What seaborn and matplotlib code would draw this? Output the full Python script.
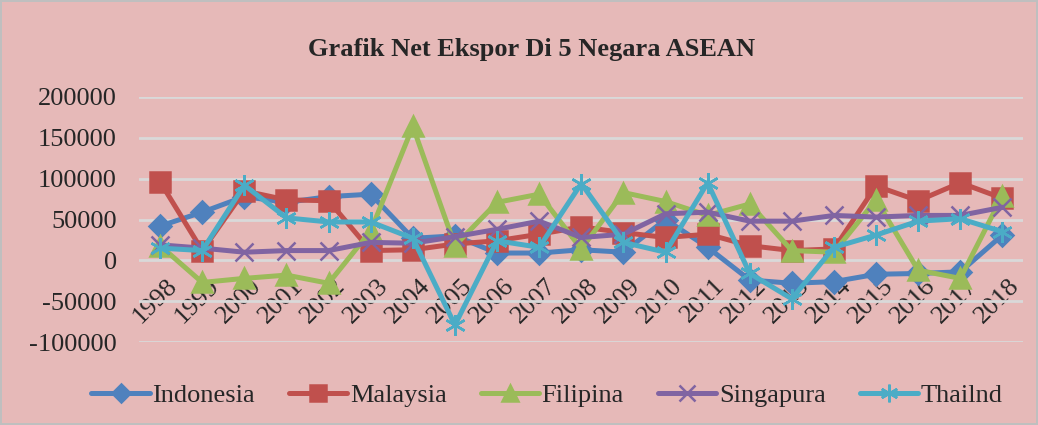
import numpy as np
import pandas as pd
import matplotlib
matplotlib.use("Agg")
import matplotlib.pyplot as plt
import matplotlib.transforms as mtransforms
import seaborn as sns

years = list(range(1998, 2019))
indonesia = [42000, 59000, 78000, 71000, 78000, 81000, 27000, 30000, 9000, 9000,
             13000, 10000, 50000, 16000, -24000, -28000, -26000, -17000, -16000, -14000, 31000]
malaysia = [96000, 12000, 85000, 74000, 73000, 12000, 13000, 20000, 24000, 32000,
            41000, 34000, 28000, 32000, 18000, 12000, 14000, 91000, 73000, 95000, 76000]
filipina = [18000, -27000, -22000, -18000, -28000, 36000, 164000, 18000, 71000, 81000,
            14000, 83000, 72000, 55000, 69000, 12000, 10000, 74000, -12000, -22000, 79000]
singapura = [19000, 15000, 10000, 12000, 12000, 22000, 21000, 29000, 38000, 48000,
             28000, 32000, 57000, 59000, 48000, 48000, 55000, 53000, 55000, 55000, 65000]
thailnd = [15000, 12000, 92000, 52000, 47000, 47000, 27000, -79000, 24000, 16000,
           94000, 22000, 10000, 95000, -16000, -47000, 16000, 31000, 48000, 51000, 35000]

series = {"Indonesia": indonesia, "Malaysia": malaysia, "Filipina": filipina,
          "Singapura": singapura, "Thailnd": thailnd}
colors = ["#4F81BD", "#C0504D", "#9BBB59", "#8064A2", "#4BACC6"]
markers = ["D", "s", "^", "x", (6, 2, 0)]
msizes = [11, 14, 14, 13, 15]

df = pd.DataFrame(series, index=years)
df.index.name = "Tahun"
long = df.reset_index().melt(id_vars="Tahun", var_name="Negara", value_name="Net")
long["pos"] = long["Tahun"] - years[0]

bg = "#E6B9B8"
sns.set_style("white")
plt.rcParams["font.family"] = ["Liberation Serif", "DejaVu Serif"]

fig = plt.figure(figsize=(10.38, 4.25), dpi=100, facecolor=bg)
fig.patch.set_edgecolor("#BFBFBF")
fig.patch.set_linewidth(1.5)
ax = fig.add_axes([0.134, 0.195, 0.852, 0.577])
ax.set_facecolor(bg)

for name, col, mk, ms in zip(series, colors, markers, msizes):
    sub = long[long["Negara"] == name]
    sns.lineplot(data=sub, x="pos", y="Net", color=col, marker=mk, markersize=ms,
                 markeredgecolor=col, markeredgewidth=1.8, linewidth=3.6,
                 label=name, ax=ax)

ax.spines["bottom"].set_position(("data", 0))
for s in ax.spines.values():
    s.set_visible(False)

ax.set_xlim(-0.5, len(years) - 0.5)
ax.set_ylim(-100000, 200000)
ax.set_yticks(np.arange(-100000, 200001, 50000))
ax.set_yticklabels([str(v) for v in np.arange(-100000, 200001, 50000)], fontsize=19)
ax.yaxis.grid(True, color="#D9D9D9", linewidth=2)
ax.set_axisbelow(True)
ax.set_xticks(range(len(years)))
ax.set_xticklabels([str(y) for y in years], rotation=45, ha="right",
                   rotation_mode="anchor", fontsize=19)
ax.tick_params(axis="both", length=0)
ax.tick_params(axis="y", pad=16)
ax.tick_params(axis="x", pad=10)
ax.set_xlabel("")
ax.set_ylabel("")

# nudge the rotated year labels a bit to the right like the original
shift = mtransforms.ScaledTranslation(6 / 100, 0, fig.dpi_scale_trans)
for lbl in ax.get_xticklabels():
    lbl.set_transform(lbl.get_transform() + shift)

fig.suptitle("Grafik Net Ekspor Di 5 Negara ASEAN", x=0.512, y=0.91, fontsize=19,
             fontweight="bold")

handles, labels = ax.get_legend_handles_labels()
ax.legend_.remove()
fig.legend(handles, labels, loc="center", bbox_to_anchor=(0.527, 0.07), ncol=5,
           frameon=False, fontsize=19, handlelength=2.2, handletextpad=0.1,
           columnspacing=1.3, markerscale=0.85)

fig.savefig("out.png", dpi=100, facecolor=bg, edgecolor=fig.get_edgecolor())
